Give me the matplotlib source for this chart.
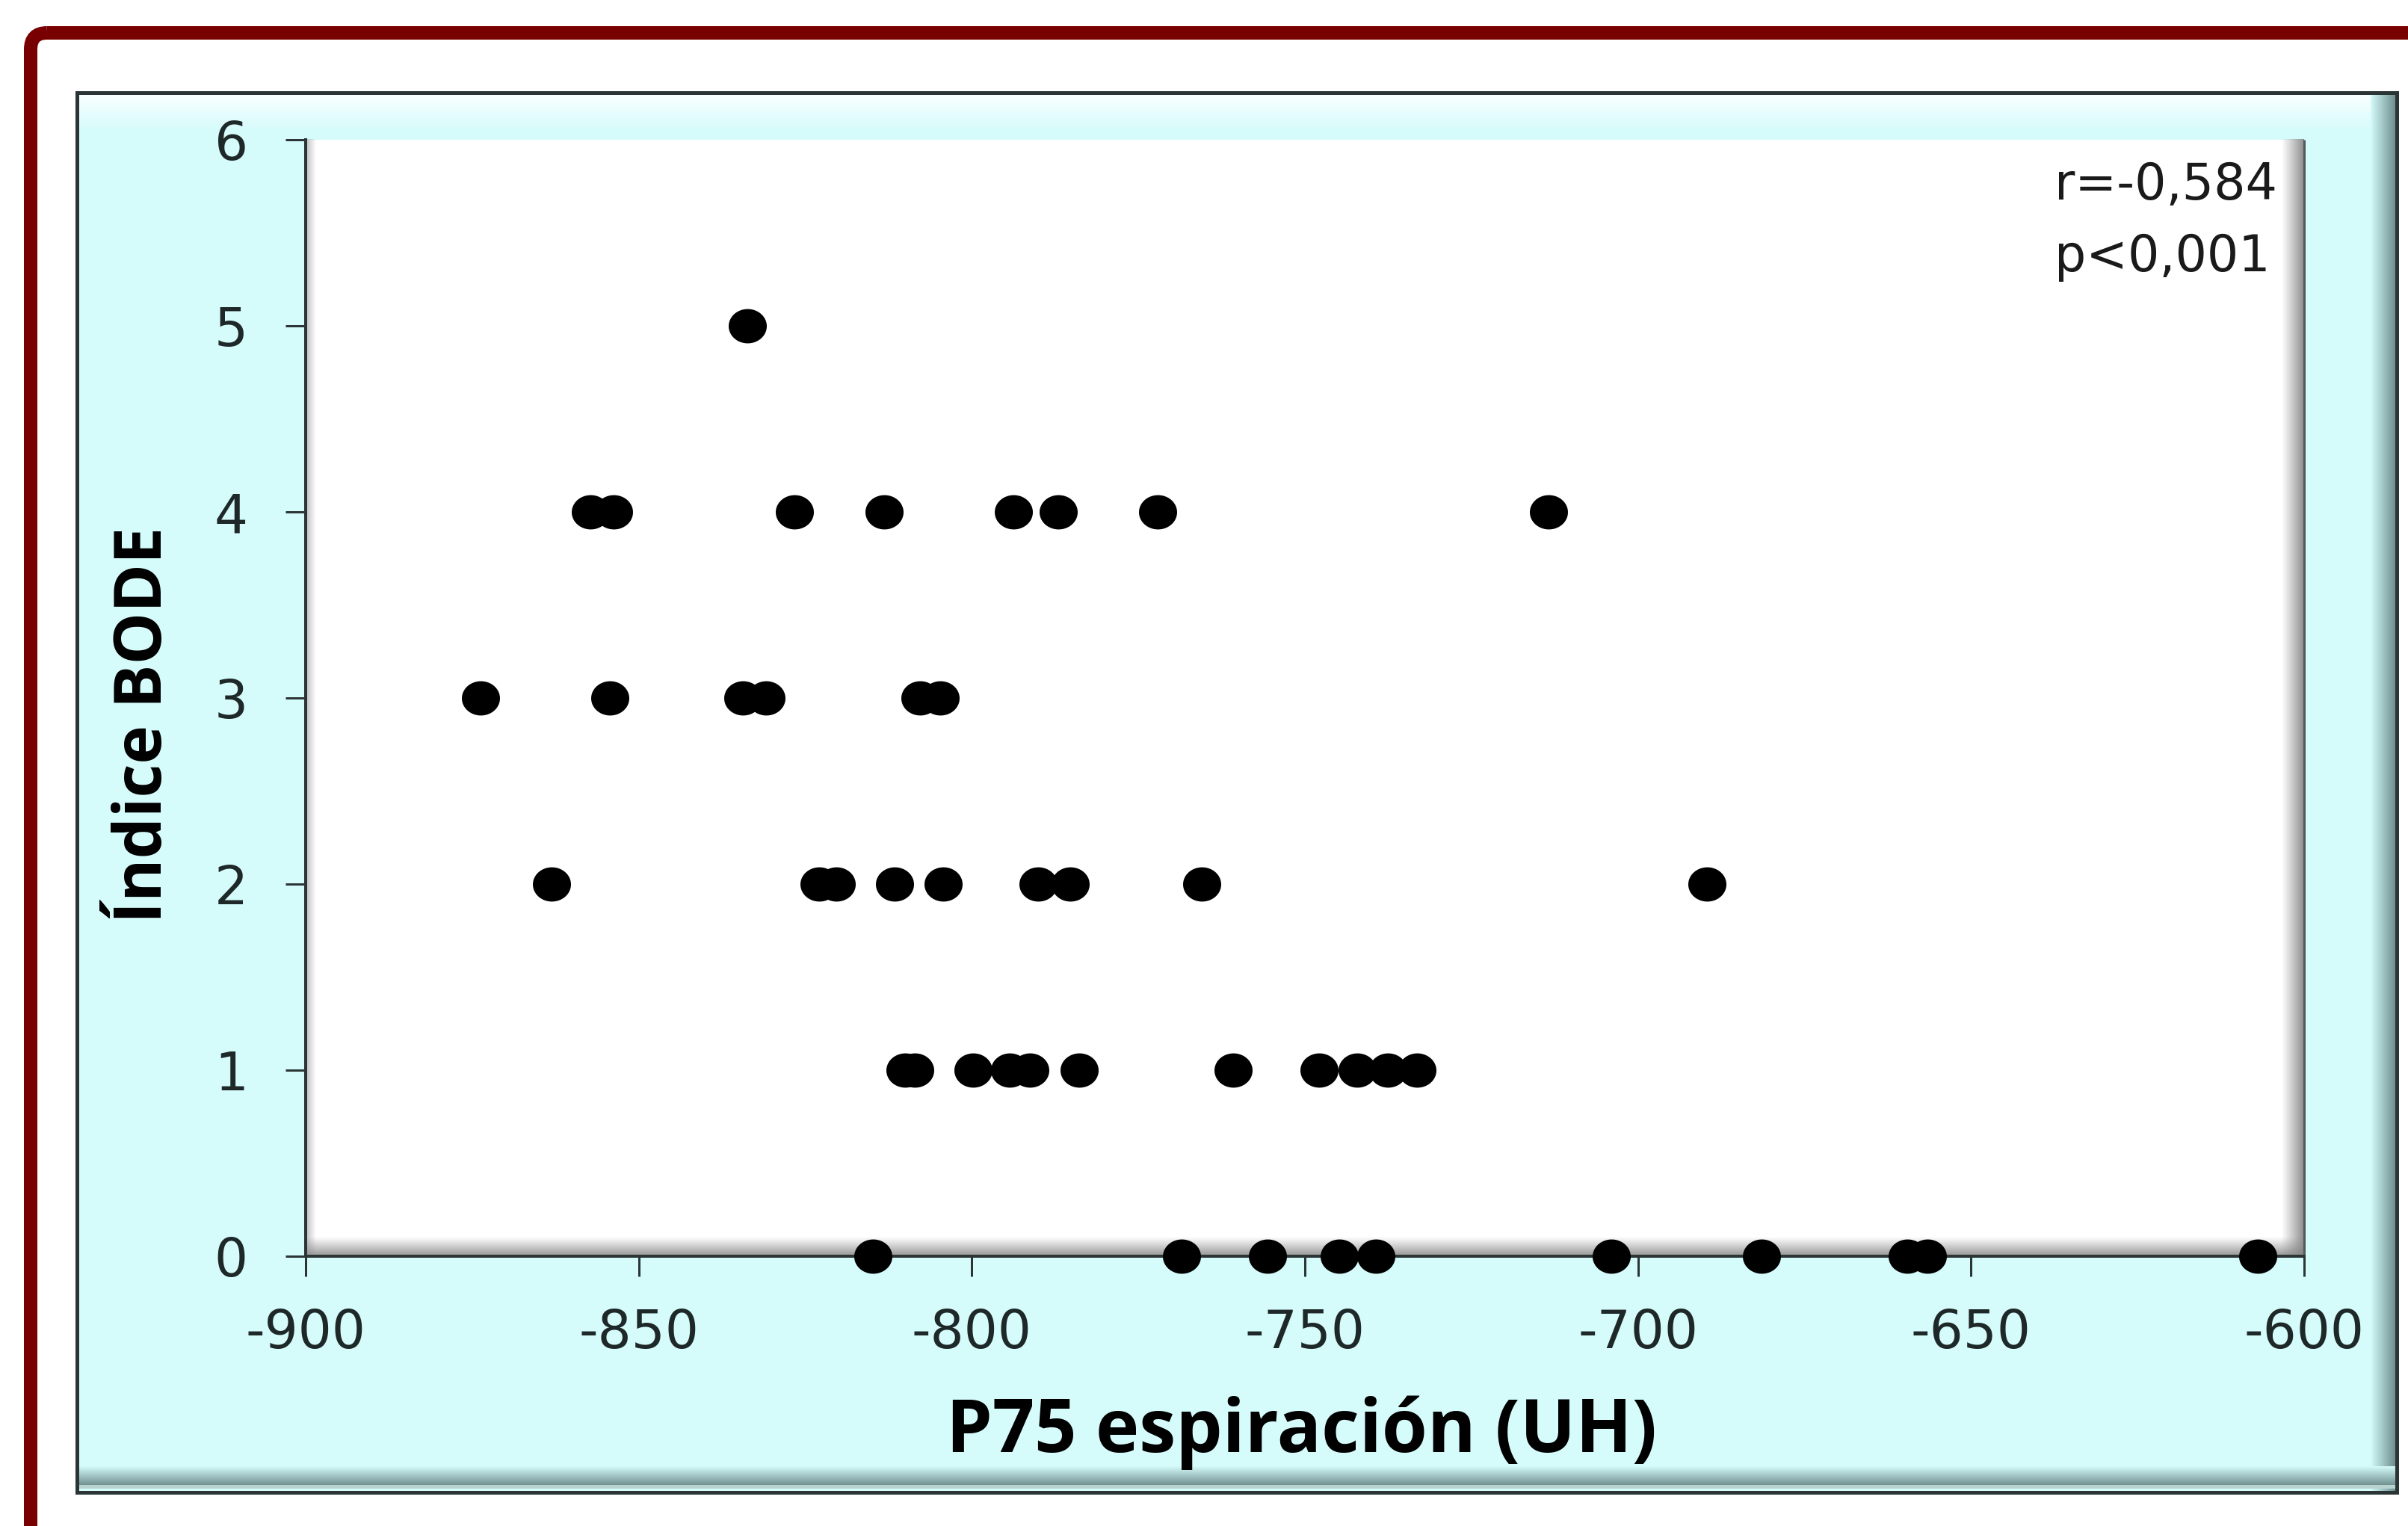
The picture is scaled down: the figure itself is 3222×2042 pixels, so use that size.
import numpy as np
import matplotlib
matplotlib.use('Agg')
import matplotlib.pyplot as plt
from matplotlib.patches import Rectangle, FancyBboxPatch
from matplotlib.path import Path
from matplotlib.colors import to_rgba

W, H, DPI = 3223, 2042, 200
plt.rcParams['font.family'] = ['DejaVu Sans']
plt.rcParams['axes.unicode_minus'] = False
LABEL_FONT = ['Open Sans', 'Lato', 'DejaVu Sans']

# ---------------- data ----------------
x_label = 'P75 espiración (UH)'
y_label = 'Índice BODE'
annot_r = 'r=-0,584'
annot_p = 'p<0,001'
x_ticks = [-900, -850, -800, -750, -700, -650, -600]
y_ticks = [0, 1, 2, 3, 4, 5, 6]

p75_bode5 = [-833.7]
p75_bode4 = [-857.2, -853.8, -826.6, -813.2, -793.7, -787.0, -772.1, -713.4]
p75_bode3 = [-873.8, -854.3, -834.4, -830.9, -807.8, -804.8]
p75_bode2 = [-863.1, -822.9, -820.4, -811.6, -804.3, -790.0, -785.2, -765.5, -689.6]
p75_bode1 = [-810.0, -808.6, -799.8, -794.3, -791.3, -783.9, -760.8, -747.9,
             -742.1, -737.6, -733.2]
p75_bode0 = [-814.9, -768.5, -755.6, -744.8, -739.3, -704.0, -681.4, -659.6,
             -656.5, -606.9]

p75 = p75_bode5 + p75_bode4 + p75_bode3 + p75_bode2 + p75_bode1 + p75_bode0
bode = ([5] * len(p75_bode5) + [4] * len(p75_bode4) + [3] * len(p75_bode3) +
        [2] * len(p75_bode2) + [1] * len(p75_bode1) + [0] * len(p75_bode0))

# ---------------- figure ----------------
px = 72.0 / DPI  # points per pixel
fig = plt.figure(figsize=(W / DPI, H / DPI), dpi=DPI, facecolor='white')
bg = fig.add_axes([0, 0, 1, 1])
bg.axis('off')

CYAN = '#d5fbfb'
DARK = '#2b3535'


def grad(x0, x1, y0, y1, c0, c1, vertical, z=1):
    c0 = np.array(to_rgba(c0))
    c1 = np.array(to_rgba(c1))
    t = np.linspace(0, 1, 256)[:, None]
    arr = c0 + (c1 - c0) * t
    arr = arr[:, None, :] if vertical else arr[None, :, :]
    bg.imshow(arr, extent=(x0, x1, y1, y0), origin='upper', aspect='auto',
              interpolation='bilinear', zorder=z)


# red outer frame (extends beyond the image right and bottom)
bg.add_patch(FancyBboxPatch((41, 44), 3400, 2100,
                            boxstyle='round,pad=0,rounding_size=22',
                            fill=False, ec='#780000', lw=18 * px, zorder=1))

# cyan chart panel
bg.add_patch(Rectangle((103, 124), 3104, 1873, fc=CYAN, ec='none', zorder=1))
grad(104, 3205, 126, 175, (1, 1, 1, 0.9), (1, 1, 1, 0.0), True, z=2)
grad(3172, 3205, 126, 1995, CYAN, '#6f8e8e', False, z=2)
grad(104, 3205, 1962, 1988, CYAN, '#6f8e8e', True, z=2)
bg.add_patch(Rectangle((104, 1987), 3101, 5, fc='#b9d3d3', ec='none', zorder=2.5))
bg.add_patch(Rectangle((103, 124), 3104, 1873, fill=False, ec=DARK,
                       lw=5 * px, zorder=3))

# plot area with Excel-like inner shadows
PL, PR, PT, PB = 409, 3083, 187, 1681
bg.add_patch(Rectangle((PL, PT), PR - PL, PB - PT, fc='white', ec='none', zorder=3))
grad(PR - 30, PR, PT, PB, (0.55, 0.55, 0.55, 0.0), (0.5, 0.5, 0.5, 0.9), False, z=4)
grad(PL, PR, PB - 26, PB, (0.55, 0.55, 0.55, 0.0), (0.5, 0.5, 0.5, 0.85), True, z=4)
grad(PL, PL + 14, PT, PB, (0.55, 0.55, 0.55, 0.6), (0.6, 0.6, 0.6, 0.0), False, z=4)
bg.plot([PR, PR], [PT, PB], color='#505a5a', lw=3 * px, zorder=5,
        solid_capstyle='butt')

bg.set_xlim(0, W)
bg.set_ylim(H, 0)

# ---------------- main axes ----------------
ax = fig.add_axes([PL / W, 1 - PB / H, (PR - PL) / W, (PB - PT) / H])
ax.patch.set_alpha(0)
for s in ('top', 'right'):
    ax.spines[s].set_visible(False)
for s in ('left', 'bottom'):
    ax.spines[s].set_color(DARK)
    ax.spines[s].set_linewidth(4 * px)

theta = np.linspace(0, 2 * np.pi, 73)
ell = Path(np.column_stack([np.cos(theta), 0.9 * np.sin(theta)]))
ax.plot(p75, bode, linestyle='none', marker=ell, ms=51 * px,
        mfc='black', mec='black', mew=0, clip_on=False, zorder=5)

ax.set_xlim(-900, -600)
ax.set_ylim(0, 6)
ax.set_xticks(x_ticks)
ax.set_yticks(y_ticks)
ax.tick_params(axis='both', direction='out', length=27 * px, width=3 * px,
               color=DARK, labelsize=25.5, labelcolor='#1e2828')
ax.tick_params(axis='x', pad=15)
ax.tick_params(axis='y', pad=18)

# ---------------- texts ----------------
fig.text(2749 / W, 1 - 267 / H, annot_r, fontsize=24, ha='left',
         va='baseline', color='#1a1a1a')
fig.text(2749 / W, 1 - 363 / H, annot_p, fontsize=24, ha='left',
         va='baseline', color='#1a1a1a')
fig.text(1742 / W, 1 - 1943 / H, x_label, fontsize=35.5, fontweight='bold',
         family=LABEL_FONT, ha='center', va='baseline', color='black')
fig.text(193 / W, 1 - 970 / H, y_label, fontsize=31.5, fontweight='bold',
         family=LABEL_FONT, rotation=90, ha='center', va='center', color='black')

fig.savefig('out.png', dpi=DPI, facecolor='white')
